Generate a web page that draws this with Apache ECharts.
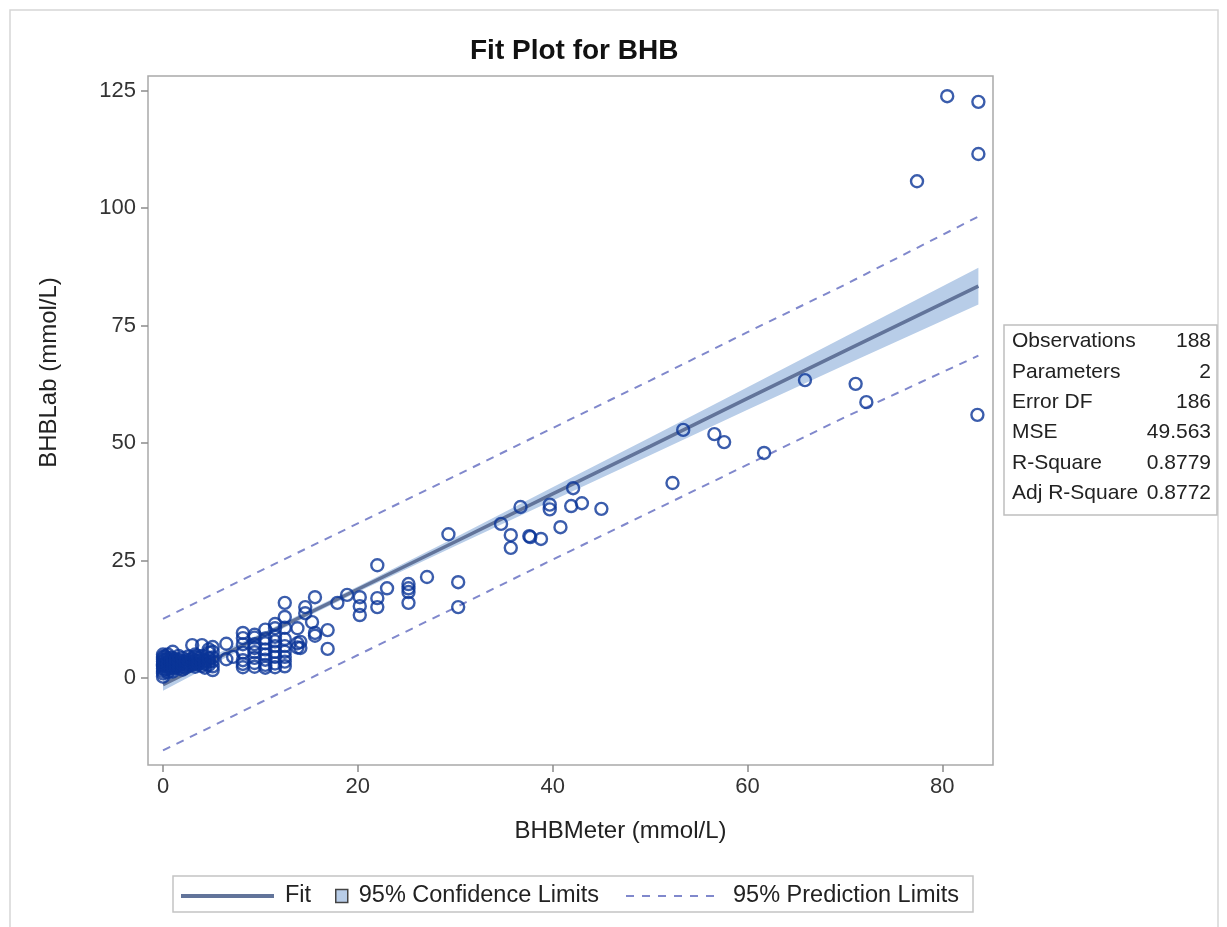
<!DOCTYPE html>
<html>
<head>
<meta charset="utf-8">
<script src="https://cdn.jsdelivr.net/npm/echarts@6/dist/echarts.min.js"></script>
<style>
  html, body { margin: 0; padding: 0; background: #fff; }
  #main { width: 1227px; height: 927px; }
</style>
</head>
<body>
<div id="main"></div>
<script>
// ---------- data ----------
const chartTitle = 'Fit Plot for BHB';
const xName = 'BHBMeter (mmol/L)';
const yName = 'BHBLab (mmol/L)';

const xTicks = [0, 20, 40, 60, 80];
const yTicks = [0, 25, 50, 75, 100, 125];

// observations [BHBMeter, BHBLab]
const observations = [
  [0,0.3],[0,1.0],[0,1.5],[0,2.0],[0,2.5],[0,2.8],[0,3.0],[0,3.5],[0,4.0],[0,4.5],[0,5.0],
  [0.2,1.8],[0.2,2.6],[0.2,3.2],[0.2,3.9],[0.2,4.6],
  [0.5,1.2],[0.5,1.9],[0.5,2.4],[0.5,2.9],[0.5,3.4],[0.5,4.2],[0.5,5.0],
  [0.8,2.2],[0.8,2.8],[0.8,3.3],[0.8,3.8],[0.8,4.4],
  [1.0,1.4],[1.0,2.0],[1.0,2.6],[1.0,3.1],[1.0,3.6],[1.0,4.2],[1.0,5.6],
  [1.3,2.3],[1.3,2.9],[1.3,3.5],[1.3,4.0],
  [1.6,2.1],[1.6,2.7],[1.6,3.3],[1.6,3.9],[1.6,4.7],
  [2.0,1.8],[2.0,2.4],[2.0,3.0],[2.0,3.6],[2.0,4.3],
  [2.3,2.2],[2.3,2.9],[2.3,3.5],
  [2.6,2.6],[2.6,3.2],[2.6,3.9],[2.6,4.6],
  [3.0,2.8],[3.0,3.4],[3.0,4.1],[3.0,7.0],
  [3.3,2.4],[3.3,3.1],[3.3,3.8],[3.3,4.5],[3.3,5.0],
  [3.6,2.9],[3.6,3.6],[3.6,4.3],
  [4.0,2.6],[4.0,3.3],[4.0,4.0],[4.0,4.7],[4.0,7.0],
  [4.3,2.2],[4.3,3.0],[4.3,3.7],
  [4.7,2.8],[4.7,3.5],[4.7,4.2],[4.7,5.4],[4.7,6.1],
  [5.1,1.7],[5.1,2.5],[5.1,3.6],[5.1,4.4],[5.1,5.6],[5.1,6.6],
  [6.5,4.0],[6.5,7.3],[7.2,4.5],
  [8.2,2.3],[8.2,3.0],[8.2,3.8],[8.2,5.4],[8.2,7.2],[8.2,8.5],[8.2,9.6],
  [9.4,2.4],[9.4,3.2],[9.4,4.3],[9.4,5.5],[9.4,6.4],[9.4,7.2],[9.4,8.6],[9.4,9.2],
  [10.5,2.2],[10.5,2.8],[10.5,3.9],[10.5,5.0],[10.5,6.1],[10.5,7.4],[10.5,8.4],[10.5,10.3],
  [11.5,2.3],[11.5,3.1],[11.5,4.5],[11.5,5.6],[11.5,6.8],[11.5,7.8],[11.5,8.8],[11.5,10.6],[11.5,11.5],
  [12.5,2.5],[12.5,3.5],[12.5,4.5],[12.5,5.6],[12.5,6.8],[12.5,8.3],[12.5,10.7],[12.5,13.0],[12.5,16.0],
  [13.8,6.5],[13.8,7.4],[13.8,10.6],
  [14.1,7.7],[14.1,6.4],[14.6,15.1],[14.6,13.8],[15.3,11.9],[15.6,17.2],[15.6,9.6],[15.6,9.0],
  [16.9,10.2],[16.9,6.2],[17.9,16.0],[18.9,17.7],
  [20.2,17.2],[20.2,15.3],[20.2,13.4],[22.0,24.0],[22.0,17.0],[22.0,15.1],[23.0,19.1],
  [25.2,20.0],[25.2,19.1],[25.2,18.3],[25.2,16.0],[27.1,21.5],[29.3,30.6],[30.3,20.4],[30.3,15.1],
  [34.7,32.8],[35.7,30.4],[35.7,27.7],[36.7,36.4],[37.6,30.2],[37.7,30.0],[38.8,29.6],
  [39.7,36.9],[39.7,35.9],[40.8,32.1],[41.9,36.6],[42.1,40.4],[43.0,37.2],[45.0,36.0],
  [52.3,41.5],[53.4,52.8],[56.6,51.9],[57.6,50.2],[61.7,47.9],[65.9,63.4],[71.1,62.6],[72.2,58.7],
  [77.4,105.7],[80.5,123.8],[83.7,122.6],[83.7,111.5],[83.6,56.0]
];

// fit, confidence and prediction limits
const fitX    = [0, 10, 20, 30, 40, 50, 60, 70, 83.7];
const fitY    = [-1.4, 8.8, 18.9, 29.0, 39.2, 49.3, 59.5, 69.6, 83.4];
const clLower = [-2.7, 8.2, 18.3, 28.1, 37.8, 47.4, 57.1, 66.6, 79.5];
const clUpper = [-0.1, 9.4, 19.5, 29.9, 40.6, 51.2, 61.9, 72.6, 87.3];
const plLower = [-15.4, -5.2, 4.9, 15.0, 25.2, 35.3, 45.4, 55.5, 68.6];
const plUpper = [12.6, 22.8, 32.9, 43.0, 53.2, 63.3, 73.6, 83.7, 98.2];

// fit statistics table
const statLabels = ['Observations', 'Parameters', 'Error DF', 'MSE', 'R-Square', 'Adj R-Square'];
const statValues = ['188', '2', '186', '49.563', '0.8779', '0.8772'];

// ---------- chart ----------
const FONT = '"Liberation Sans", Arial, Helvetica, sans-serif';
const chart = echarts.init(document.getElementById('main'), null, { renderer: 'canvas' });

const pair = (xs, ys) => xs.map((x, i) => [x, ys[i]]);
const bandData = fitX.map((x, i) => [x, clLower[i], clUpper[i]]);

const tableRowY = [341, 372, 402, 432, 463, 493];
const tableGraphics = [
  { type: 'rect', shape: { x: 1004, y: 325, width: 213, height: 190 },
    style: { fill: '#fff', stroke: '#bfbfbf', lineWidth: 1.5 } }
];
statLabels.forEach((t, i) => {
  tableGraphics.push({ type: 'text', x: 1012, y: tableRowY[i],
    style: { text: t, font: '21px ' + FONT, fill: '#222', textAlign: 'left', textVerticalAlign: 'middle' } });
  tableGraphics.push({ type: 'text', x: 1211, y: tableRowY[i],
    style: { text: statValues[i], font: '21px ' + FONT, fill: '#222', textAlign: 'right', textVerticalAlign: 'middle' } });
});

const dashIcon = 'path://M0,0h8v2h-8z M16,0h8v2h-8z M32,0h8v2h-8z M48,0h8v2h-8z M64,0h8v2h-8z M80,0h8v2h-8z';
const legendText = { fontSize: 23.5, color: '#222', fontFamily: FONT };

const option = {
  animation: false,
  backgroundColor: '#fff',
  title: {
    text: chartTitle, left: 465, top: 32,
    textStyle: { fontSize: 28, fontWeight: 'bold', color: '#111', fontFamily: FONT }
  },
  grid: {
    left: 148, top: 76, width: 845, height: 689,
    show: true, borderColor: '#a9a9a9', borderWidth: 1.5, backgroundColor: '#fff'
  },
  xAxis: {
    type: 'value', min: -1.54, max: 85.2,
    name: xName, nameLocation: 'middle', nameGap: 54,
    nameTextStyle: { fontSize: 24, color: '#222', fontFamily: FONT, padding: [0, 0, 0, 100] },
    splitLine: { show: false },
    axisLine: { show: false, onZero: false },
    axisTick: { show: true, customValues: xTicks, length: 7, lineStyle: { color: '#8c8c8c', width: 1.5 } },
    axisLabel: { customValues: xTicks, fontSize: 22, color: '#333', margin: 11, fontFamily: FONT }
  },
  yAxis: {
    type: 'value', min: -18.5, max: 128.1,
    name: yName, nameLocation: 'middle', nameGap: 87, nameRotate: 90,
    nameTextStyle: { fontSize: 24, color: '#222', fontFamily: FONT, padding: [0, 0, 0, 96] },
    splitLine: { show: false },
    axisLine: { show: false, onZero: false },
    axisTick: { show: true, customValues: yTicks, length: 7, lineStyle: { color: '#8c8c8c', width: 1.5 } },
    axisLabel: { customValues: yTicks, fontSize: 22, color: '#333', margin: 12, fontFamily: FONT }
  },
  legend: [
    { data: [{ name: 'Fit', icon: 'rect', itemStyle: { color: '#62749a' } }],
      left: 176, top: 879, itemWidth: 93, itemHeight: 4,
      textStyle: Object.assign({ padding: [0, 0, 0, 6] }, legendText) },
    { data: [{ name: '95% Confidence Limits', icon: 'rect',
               itemStyle: { color: '#b8cde8', borderColor: '#444', borderWidth: 1.5 } }],
      left: 330, top: 879, itemWidth: 12, itemHeight: 13,
      textStyle: Object.assign({ padding: [0, 0, 0, 6] }, legendText) },
    { data: [{ name: '95% Prediction Limits', icon: dashIcon, itemStyle: { color: '#8088cc' } }],
      left: 621, top: 879, itemWidth: 88, itemHeight: 2,
      textStyle: Object.assign({ padding: [0, 0, 0, 14] }, legendText) }
  ],
  graphic: [
    { type: 'rect', shape: { x: 10, y: 10, width: 1208, height: 940 },
      style: { fill: 'none', stroke: '#d6d6d6', lineWidth: 1.5 }, silent: true, z: -10 },
    { type: 'rect', shape: { x: 173, y: 876, width: 800, height: 36 },
      style: { fill: 'none', stroke: '#c4c4c4', lineWidth: 1.5 }, silent: true },
    { type: 'group', children: tableGraphics }
  ],
  series: [
    {
      type: 'custom', name: '95% Confidence Limits',
      data: bandData,
      encode: { x: 0, y: [1, 2] },
      z: 1,
      renderItem: (params, api) => {
        if (params.dataIndex !== 0) return null;
        const pts = [];
        for (let i = 0; i < bandData.length; i++) pts.push(api.coord([bandData[i][0], bandData[i][1]]));
        for (let i = bandData.length - 1; i >= 0; i--) pts.push(api.coord([bandData[i][0], bandData[i][2]]));
        return { type: 'polygon', shape: { points: pts }, style: { fill: '#b8cde8', stroke: 'none' } };
      }
    },
    {
      type: 'line', name: 'Fit', data: pair(fitX, fitY), symbol: 'none', z: 2,
      lineStyle: { color: '#62749a', width: 3.5 }, itemStyle: { color: '#62749a' }
    },
    {
      type: 'line', name: '95% Prediction Limits', data: pair(fitX, plUpper), symbol: 'none', z: 2,
      lineStyle: { color: '#8088cc', width: 2, type: [8, 7] }, itemStyle: { color: '#8088cc' }
    },
    {
      type: 'line', name: '95% Prediction Limits', data: pair(fitX, plLower), symbol: 'none', z: 2,
      lineStyle: { color: '#8088cc', width: 2, type: [8, 7] }, itemStyle: { color: '#8088cc' }
    },
    {
      type: 'scatter', name: 'BHBLab', data: observations, z: 3,
      symbol: 'circle', symbolSize: 12,
      itemStyle: { color: 'rgba(255,255,255,0)', borderColor: '#0a3597', borderWidth: 2.4 }
    }
  ]
};
chart.setOption(option);
</script>
</body>
</html>
